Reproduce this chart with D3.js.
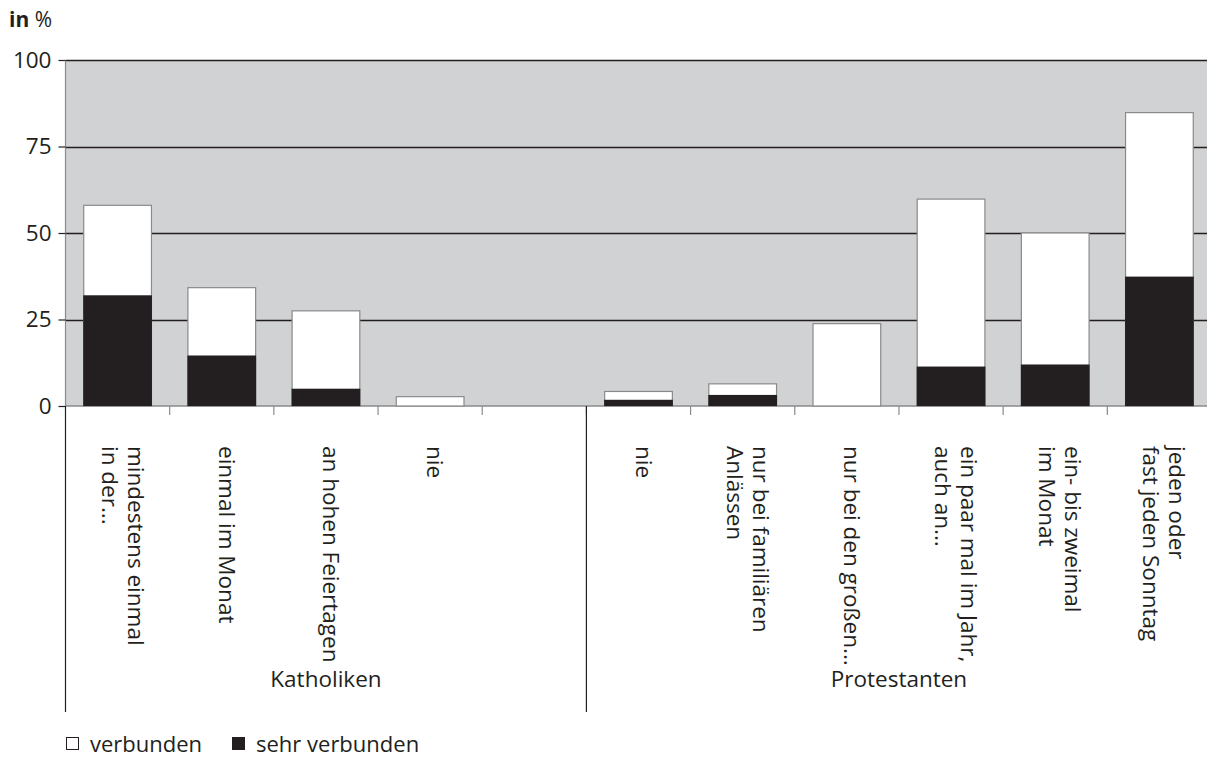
<!DOCTYPE html>
<html><head><meta charset="utf-8">
<script src="https://cdn.jsdelivr.net/npm/d3@7"></script>
<style>
html,body{margin:0;padding:0;background:#fff;}
svg text{font-family:"Open Sans","Noto Sans",sans-serif;fill:#231f20;}
</style></head>
<body>
<svg id="chart" width="1207" height="778"></svg>
<script>
// ---- data ----
const groups = ["Katholiken", "Protestanten"];
const categories = [
  "mindestens einmal\nin der...",
  "einmal im Monat",
  "an hohen Feiertagen",
  "nie",
  "",
  "nie",
  "nur bei familiären\nAnlässen",
  "nur bei den großen...",
  "ein paar mal im Jahr,\nauch an...",
  "ein- bis zweimal\nim Monat",
  "jeden oder\nfast jeden Sonntag"
];
const categoryGroup = [0, 0, 0, 0, 0, 1, 1, 1, 1, 1, 1];
const verbunden     = [58, 34.2, 27.5, 2.7, null, 4.2, 6.4, 23.8, 59.8, 50, 84.8];
const sehrVerbunden = [32, 14.6, 5, 0, null, 1.8, 3.2, 0, 11.4, 12, 37.4];
const yTicks = [0, 25, 50, 75, 100];
const legendLabels = ["verbunden", "sehr verbunden"];

// ---- layout ----
const svg = d3.select("#chart");
const plotL = 65.5, plotR = 1211.5, plotT = 60, plotB = 406;
const idx = categories.map((d, i) => i);

const x = d3.scaleBand().domain(idx).range([plotL, plotR])
  .paddingInner(0.35).paddingOuter(0.175);
const y = d3.scaleLinear().domain([0, 100]).range([plotB, plotT]);
const step = x.step();
const slotStart = i => x(i) - (step - x.bandwidth()) / 2;
const slotCenter = i => x(i) + x.bandwidth() / 2;

// plot background
svg.append("rect").attr("x", plotL).attr("y", y(100))
  .attr("width", plotR - plotL).attr("height", y(0) - y(100))
  .attr("fill", "#d1d2d4");

// gridlines
svg.append("g").selectAll("line").data(yTicks.filter(d => d > 0)).join("line")
  .attr("x1", plotL).attr("x2", plotR)
  .attr("y1", d => Math.round(y(d)) + 0.5).attr("y2", d => Math.round(y(d)) + 0.5)
  .attr("stroke", "#231f20").attr("stroke-width", 1.3);

// left axis inside plot (gray)
svg.append("line").attr("x1", plotL).attr("x2", plotL).attr("y1", y(100)).attr("y2", y(0))
  .attr("stroke", "#8a8a8a").attr("stroke-width", 1.2);

// y axis ticks & labels
const yAxis = d3.axisLeft(y).tickValues(yTicks).tickSize(7).tickPadding(7);
const ya = svg.append("g").attr("transform", `translate(${plotL},0)`).call(yAxis);
ya.select(".domain").remove();
ya.selectAll(".tick line").attr("stroke", "#231f20").attr("stroke-width", 1.2);
ya.selectAll(".tick text").style("font-size", "22.5px").attr("fill", "#231f20");

// zero line
svg.append("line").attr("x1", plotL).attr("x2", plotR).attr("y1", y(0)).attr("y2", y(0))
  .attr("stroke", "#8a8a8a").attr("stroke-width", 1.5);

// bars
const barData = idx.filter(i => verbunden[i] != null);
svg.append("g").selectAll("rect").data(barData).join("rect")
  .attr("x", i => x(i)).attr("width", x.bandwidth())
  .attr("y", i => y(verbunden[i])).attr("height", i => y(0) - y(verbunden[i]))
  .attr("fill", "#ffffff").attr("stroke", "#8a8a8a").attr("stroke-width", 1.2);
svg.append("g").selectAll("rect").data(barData.filter(i => sehrVerbunden[i] > 0)).join("rect")
  .attr("x", i => x(i) - 0.5).attr("width", x.bandwidth() + 1)
  .attr("y", i => y(sehrVerbunden[i])).attr("height", i => y(0) - y(sehrVerbunden[i]))
  .attr("fill", "#231f20");

// category tick marks
svg.append("g").selectAll("line").data(idx.slice(1)).join("line")
  .attr("x1", i => slotStart(i)).attr("x2", i => slotStart(i))
  .attr("y1", y(0)).attr("y2", y(0) + 9)
  .attr("stroke", "#8a8a8a").attr("stroke-width", 1.2);

// group separators
const groupBounds = groups.map((g, gi) => {
  const members = idx.filter(i => categoryGroup[i] === gi);
  return { name: g, x0: slotStart(members[0]), x1: slotStart(members[members.length - 1]) + step };
});
svg.append("g").selectAll("line").data(groupBounds).join("line")
  .attr("x1", d => d.x0).attr("x2", d => d.x0)
  .attr("y1", y(0)).attr("y2", 712)
  .attr("stroke", "#231f20").attr("stroke-width", 1.2);

// category labels (rotated)
const lineH = 26;
const labG = svg.append("g");
idx.forEach(i => {
  if (!categories[i]) return;
  const lines = categories[i].split("\n");
  const n = lines.length;
  lines.forEach((t, li) => {
    const off = ((n - 1) / 2 - li) * lineH - 3;
    labG.append("text")
      .attr("transform", `translate(${slotCenter(i) + off},446) rotate(90)`)
      .attr("text-anchor", "start")
      .style("font-size", "22.5px")
      .text(t);
  });
});

// group labels
svg.append("g").selectAll("text").data(groupBounds).join("text")
  .attr("x", d => (d.x0 + d.x1) / 2).attr("y", 687)
  .attr("text-anchor", "middle").style("font-size", "22.5px")
  .text(d => d.name);

// y unit label
const unit = svg.append("text").attr("x", 9).attr("y", 27).style("font-size", "21px");
unit.append("tspan").style("font-weight", "bold").text("in");
unit.append("tspan").text(" %");

// legend
const lg = svg.append("g").attr("transform", "translate(66,752)");
const legendFill = ["#ffffff", "#231f20"];
const legendX = [0, 166];
legendLabels.forEach((t, k) => {
  lg.append("rect").attr("x", legendX[k] + 0.5).attr("y", -14.5).attr("width", 12).attr("height", 12)
    .attr("fill", legendFill[k]).attr("stroke", "#231f20").attr("stroke-width", 1);
  lg.append("text").attr("x", legendX[k] + 24).attr("y", 0).style("font-size", "22px").text(t);
});
</script>
</body></html>
